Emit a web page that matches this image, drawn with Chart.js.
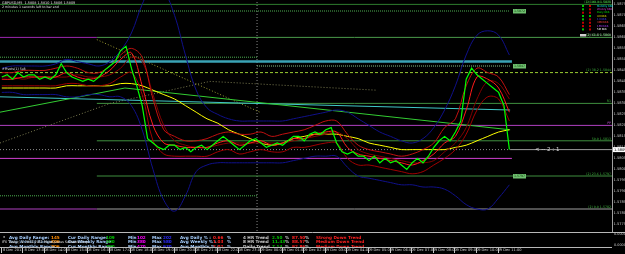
<!DOCTYPE html>
<html>
<head>
<meta charset="utf-8">
<title>GBPUSD,M5</title>
<style>
html, body { margin: 0; padding: 0; background: #000; overflow: hidden; }
canvas { display: block; }
</style>
</head>
<body>
<canvas id="chart" width="625" height="254"></canvas>
<script src="https://cdn.jsdelivr.net/npm/chart.js@4.4.0/dist/chart.umd.min.js"></script>
<script>
"use strict";

// x values are minutes after 8 Dec 12:00 (M5 bars)
var timeLabels = ["8 Dec 2011", "8 Dec 13:00", "8 Dec 14:00", "8 Dec 15:00", "8 Dec 16:00", "8 Dec 17:00",
	"8 Dec 18:00", "8 Dec 19:00", "8 Dec 20:00", "8 Dec 21:00", "8 Dec 22:00", "8 Dec 23:00",
	"9 Dec 00:00", "9 Dec 01:00", "9 Dec 02:00", "9 Dec 03:00", "9 Dec 04:00", "9 Dec 05:00",
	"9 Dec 06:00", "9 Dec 07:00", "9 Dec 08:00", "9 Dec 09:00", "9 Dec 10:00", "9 Dec 11:00"];
var priceTicks = [1.5775, 1.5780, 1.5785, 1.5790, 1.5795, 1.5800, 1.5805, 1.5810, 1.5815, 1.5820, 1.5825,
	1.5830, 1.5835, 1.5840, 1.5845, 1.5850, 1.5855, 1.5860, 1.5865, 1.5870, 1.5875];

// close every 15 minutes
var closeStep = 15;
var closes = [1.5842, 1.5843, 1.5841, 1.5844, 1.5842, 1.5843, 1.5843, 1.5841, 1.5842, 1.5841,
	1.5843, 1.5848, 1.5844, 1.5842, 1.5841, 1.5840, 1.5841, 1.5840, 1.5842, 1.5845,
	1.5847, 1.5849, 1.5854, 1.5856, 1.5846, 1.5838, 1.5829, 1.5814, 1.5812, 1.5810,
	1.5809, 1.5811, 1.5811, 1.5809, 1.5810, 1.5808, 1.5810, 1.5811, 1.5809, 1.5811,
	1.5813, 1.5815, 1.5813, 1.5811, 1.5809, 1.5811, 1.5813, 1.5814, 1.5812, 1.5810,
	1.5811, 1.5812, 1.5811, 1.5813, 1.5815, 1.5815, 1.5813, 1.5816, 1.5817, 1.5816,
	1.5818, 1.5819, 1.5812, 1.5808, 1.5807, 1.5808, 1.5806, 1.5806, 1.5804, 1.5806,
	1.5803, 1.5805, 1.5803, 1.5804, 1.5802, 1.5800, 1.5803, 1.5805, 1.5803, 1.5806,
	1.5810, 1.5813, 1.5815, 1.5813, 1.5817, 1.5822, 1.5841, 1.5846, 1.5843, 1.5841,
	1.5839, 1.5837, 1.5835, 1.5829, 1.5809];

// indicators every 30 minutes
var maStep = 30;
var redFast = [1.5841, 1.5841, 1.5842, 1.5842, 1.5842, 1.5842, 1.5844, 1.5842, 1.5841, 1.5842,
	1.5845, 1.5850, 1.5853, 1.5838, 1.5820, 1.5812, 1.5811, 1.5810, 1.5810, 1.5810,
	1.5812, 1.5813, 1.5811, 1.5812, 1.5813, 1.5811, 1.5812, 1.5814, 1.5814, 1.5816,
	1.5817, 1.5817, 1.5810, 1.5807, 1.5806, 1.5805, 1.5804, 1.5803, 1.5802, 1.5804,
	1.5807, 1.5812, 1.5815, 1.5827, 1.5842, 1.5841, 1.5837, 1.5826];
var redSlow = [1.5842, 1.5842, 1.5841, 1.5842, 1.5842, 1.5842, 1.5842, 1.5843, 1.5842, 1.5842,
	1.5843, 1.5846, 1.5851, 1.5849, 1.5834, 1.5820, 1.5813, 1.5811, 1.5810, 1.5810,
	1.5811, 1.5812, 1.5812, 1.5812, 1.5812, 1.5812, 1.5812, 1.5813, 1.5814, 1.5815,
	1.5816, 1.5817, 1.5814, 1.5809, 1.5807, 1.5806, 1.5805, 1.5804, 1.5803, 1.5803,
	1.5804, 1.5808, 1.5812, 1.5819, 1.5832, 1.5840, 1.5839, 1.5832];
var redUpper = [1.5844, 1.5844, 1.5845, 1.5845, 1.5845, 1.5846, 1.5847, 1.5846, 1.5844, 1.5844,
	1.5847, 1.5852, 1.5855, 1.5851, 1.5832, 1.5818, 1.5815, 1.5813, 1.5813, 1.5814,
	1.5816, 1.5817, 1.5816, 1.5816, 1.5817, 1.5815, 1.5816, 1.5817, 1.5818, 1.5820,
	1.5822, 1.5822, 1.5816, 1.5811, 1.5809, 1.5808, 1.5807, 1.5806, 1.5807, 1.5809,
	1.5812, 1.5819, 1.5823, 1.5838, 1.5846, 1.5844, 1.5842, 1.5834];
var redLower = [1.5838, 1.5838, 1.5838, 1.5838, 1.5838, 1.5838, 1.5839, 1.5839, 1.5838, 1.5838,
	1.5839, 1.5842, 1.5844, 1.5834, 1.5813, 1.5807, 1.5806, 1.5806, 1.5806, 1.5806,
	1.5808, 1.5809, 1.5807, 1.5808, 1.5809, 1.5808, 1.5808, 1.5810, 1.5810, 1.5811,
	1.5812, 1.5812, 1.5805, 1.5802, 1.5802, 1.5801, 1.5800, 1.5799, 1.5798, 1.5799,
	1.5802, 1.5805, 1.5809, 1.5816, 1.5827, 1.5833, 1.5832, 1.5822];
var yellowMa = [1.5837, 1.5837, 1.5837, 1.5837, 1.5837, 1.5837, 1.5838, 1.5838, 1.5838, 1.5838,
	1.5838, 1.5839, 1.5839, 1.5838, 1.5836, 1.5834, 1.5832, 1.5829, 1.5826, 1.5823,
	1.5821, 1.5818, 1.5816, 1.5814, 1.5812, 1.5811, 1.5812, 1.5814, 1.5815, 1.5816,
	1.5816, 1.5816, 1.5815, 1.5814, 1.5812, 1.5811, 1.5810, 1.5809, 1.5809, 1.5809,
	1.5809, 1.5809, 1.5810, 1.5811, 1.5813, 1.5815, 1.5817, 1.5818];
var blueUpper = [1.5846, 1.5847, 1.5847, 1.5847, 1.5847, 1.5848, 1.5850, 1.5849, 1.5848, 1.5847,
	1.5849, 1.5854, 1.5862, 1.5875, 1.5884, 1.5881, 1.5870, 1.5852, 1.5836, 1.5828,
	1.5825, 1.5823, 1.5822, 1.5822, 1.5822, 1.5822, 1.5822, 1.5823, 1.5824, 1.5825,
	1.5826, 1.5827, 1.5826, 1.5823, 1.5820, 1.5817, 1.5815, 1.5813, 1.5812, 1.5814,
	1.5819, 1.5827, 1.5838, 1.5852, 1.5861, 1.5863, 1.5861, 1.5852];
var blueLower = [1.5835, 1.5835, 1.5834, 1.5834, 1.5834, 1.5834, 1.5833, 1.5833, 1.5834, 1.5834,
	1.5833, 1.5833, 1.5829, 1.5818, 1.5800, 1.5786, 1.5781, 1.5788, 1.5799, 1.5802,
	1.5803, 1.5803, 1.5803, 1.5803, 1.5803, 1.5803, 1.5803, 1.5804, 1.5805, 1.5806,
	1.5806, 1.5806, 1.5801, 1.5797, 1.5796, 1.5795, 1.5794, 1.5793, 1.5793, 1.5792,
	1.5792, 1.5791, 1.5788, 1.5784, 1.5782, 1.5782, 1.5787, 1.5793];

// trend lines as [minute, price] pairs
var greenTrend = [[-5, 1.5826], [342, 1.5837], [1412, 1.5818]];
var cyanTrend = [[-5, 1.5833], [1412, 1.5827]];
var oliveTrend = [[264, 1.5859], [717, 1.5826]];
var grayTrend = [[-5, 1.5812], [301, 1.5830], [578, 1.5840], [1042, 1.5836]];

// horizontal levels
var levelPrices = [1.5875, 1.5872, 1.5860, 1.5851, 1.5849, 1.5847, 1.5844, 1.5830, 1.5820, 1.5813,
	1.5809, 1.5805, 1.5797, 1.5788, 1.5782];
var daySplit = 709;

var lastPrice = closes[closes.length - 1];

function series(values, step) {
	return values.map(function (v, i) {
		return { x: i * step, y: v };
	});
}
function pairs(list) {
	return list.map(function (p) {
		return { x: p[0], y: p[1] };
	});
}
function line(data, color, width, dash, tension) {
	return {
		data: data,
		borderColor: color,
		borderWidth: width,
		borderDash: dash || [],
		tension: tension || 0,
		pointRadius: 0,
		fill: false
	};
}
function hline(i, from, to, color, width, dash) {
	return line([{ x: from, y: levelPrices[i] }, { x: to, y: levelPrices[i] }], color, width, dash);
}

var datasets = [
	line(series(closes, closeStep), '#00ff00', 1.2),
	line(series(redFast, maStep), '#ff1a1a', 1, [], 0.35),
	line(series(redUpper, maStep), '#c01010', 1, [], 0.35),
	line(series(redLower, maStep), '#a00000', 1, [], 0.35),
	line(series(redSlow, maStep), '#800000', 1, [], 0.35),
	line(series(yellowMa, maStep), '#ffff00', 1, [], 0.35),
	line(series(blueUpper, maStep), '#10108a', 1, [], 0.4),
	line(series(blueLower, maStep), '#10108a', 1, [], 0.4),
	line(pairs(greenTrend), '#33cc33', 1),
	line(pairs(cyanTrend), '#40c8c8', 1),
	line(pairs(oliveTrend), '#9a9a30', 1, [1, 2]),
	line(pairs(grayTrend), '#7a7a50', 1, [1, 2]),
	hline(0, -5, 1695, '#2e7d2e', 1),
	hline(1, -5, 1412, '#4caf50', 1, [1, 1]),
	hline(2, -5, 264, '#9c27b0', 1),
	hline(2, 264, 1695, '#4a9a4a', 1),
	hline(3, -5, daySplit, '#4caf50', 1, [1, 1]),
	hline(4, -5, 1417, '#3aa3b5', 2.5),
	hline(5, daySplit, 1412, '#8bc38b', 1, [1, 1]),
	hline(6, -5, 1695, '#9acd32', 1, [3, 2]),
	hline(7, 264, 1695, '#3f8f3f', 1),
	hline(8, -5, 1695, '#b040c0', 1),
	hline(9, 264, 1695, '#3f8f3f', 1),
	hline(10, -5, 1412, '#8a8a8a', 1, [1, 2]),
	hline(10, 1412, 1695, '#9a9a9a', 1),
	hline(11, -5, 1417, '#d040d0', 1),
	hline(12, 264, 1695, '#3f8f3f', 1),
	hline(13, -5, daySplit, '#4caf50', 1, [1, 1]),
	hline(14, -5, 264, '#b040c0', 1),
	hline(14, 264, 1695, '#a0a0a0', 1),
	line([{ x: daySplit, y: 1.5772 }, { x: daySplit, y: 1.5877 }], '#8a8a8a', 1, [1, 2])
];

// text drawn on top of the chart, the way MT4 shows it
var mt4Overlay = {
	id: 'mt4Overlay',
	afterDraw: function (chart) {
		var c = chart.ctx;
		var xs = chart.scales.x;
		var ys = chart.scales.y;
		var area = chart.chartArea;

		function txt(s, x, y, color, size, bold, align) {
			c.fillStyle = color;
			c.font = (bold ? 'bold ' : '') + size + 'px "DejaVu Sans"';
			c.textAlign = align || 'left';
			c.textBaseline = 'middle';
			c.fillText(s, x, y);
		}

		c.save();
		// title
		txt('GBPUSD,M5  1.5808 1.5810 1.5806 ' + lastPrice.toFixed(4), 2, 3, '#e0e0e0', 3.4);
		txt('2 minutes 1 seconds left to bar end', 2, 7.5, '#e0e0e0', 3.2);
		txt('#Pivots(1) 5x8', 2, 69.5, '#e0e0e0', 3.2);

		// level labels on the right
		var labels = [
			[0, '(2) 100.0 1.5875', '#3cb03c'],
			[2, '(2) 61.8 1.5860', '#d0d0d0'],
			[6, '(2) 38.2 1.5844', '#3cb03c'],
			[7, 'R1', '#3cb03c'],
			[8, 'PP', '#c050d0'],
			[9, '50.0 1.5813', '#3cb03c'],
			[12, '(2) 23.6 1.5797', '#3cb03c'],
			[14, '(2) 0.0 1.5782', '#3cb03c']
		];
		labels.forEach(function (l) {
			txt(l[1], area.right - 1, ys.getPixelForValue(levelPrices[l[0]]) - 2, l[2], 3.2, false, 'right');
		});

		// price boxes at line ends
		[1, 5, 12].forEach(function (i) {
			var y = ys.getPixelForValue(levelPrices[i]);
			c.fillStyle = '#6fbf6f';
			c.fillRect(513, y - 2, 13, 4.5);
			txt(levelPrices[i].toFixed(4), 519.5, y + 0.2, '#0a3a0a', 3.2, false, 'center');
		});

		txt('< -- 2 : 1', 535, ys.getPixelForValue(lastPrice), '#d8d8d8', 5.5);

		// legend block top right
		var names = ['Monthly bbb', 'Weekly bbb', 'Daily bbb', '4H bbb', '1H bbb', '30M bbb', '15M bbb', '5M bbb'];
		var cols = ['#00e0e0', '#e040e0', '#00e000', '#e0e000', '#4040ff', '#ff4040', '#b040ff', '#ffffff'];
		var cellA = ['#00c000', '#00c000', '#c00000', '#00c000', '#00c000', '#c00000', '#c00000', '#00c000'];
		var cellB = ['#c00000', '#c00000', '#c00000', '#00c000', '#c00000', '#c00000', '#c00000', '#c00000'];
		txt('(2) 161.8 1.5888', area.right - 1, 2.5, '#3cb03c', 3, false, 'right');
		names.forEach(function (n, i) {
			var y = 6 + i * 3.35;
			c.fillStyle = cellA[i];
			c.fillRect(582, y - 1, 2, 2);
			c.fillStyle = cellB[i];
			c.fillRect(589, y - 1, 2, 2);
			txt(n, 597, y, cols[i], 2.6);
		});
		c.fillStyle = '#d0d0d0';
		c.fillRect(580, 34, 6, 2.5);
		txt('(2) 138.2 1.5881', area.right - 1, 35, '#3cb03c', 3, false, 'right');

		// current price box on the axis
		var py = ys.getPixelForValue(lastPrice);
		c.fillStyle = '#ffffff';
		c.fillRect(area.right + 1, py - 2.5, 12, 5);
		txt(lastPrice.toFixed(4), area.right + 2, py, '#000000', 3.6);

		// sub window
		c.fillStyle = '#000000';
		c.fillRect(0, area.bottom + 1, 625, 15);
		c.strokeStyle = '#b8b8b8';
		c.lineWidth = 1;
		c.beginPath();
		c.moveTo(0, area.bottom + 1.5);
		c.lineTo(625, area.bottom + 1.5);
		c.moveTo(0, 247.5);
		c.lineTo(area.right, 247.5);
		c.stroke();
		txt('0.0000', area.right + 2, 234.5, '#c8c8c8', 3.4);
		txt('0.0000', area.right + 2, 245.5, '#c8c8c8', 3.4);

		c.save();
		c.beginPath();
		c.rect(0, area.bottom + 2, area.right, 245 - area.bottom);
		c.clip();
		var w = '#a8d0ff', g = '#00c000', r = '#ff2020', m = '#ff00ff', b = '#2a2aff', o = '#ff8c00', s = '#c8c8c8';
		var rows = [
			[[3, '*', s], [9, 'Avg Daily Range:', w], [51, '145', o], [68, 'Cur Daily Range:', w], [106, '109', g],
				[128, 'Min', w], [137, '102', m], [152, 'Max', w], [163, '202', b], [180, 'Avg Daily % :', w],
				[213, '0.66', r], [227, '%', w], [243, '4 HR Trend', s], [262, ':', s], [272, '2.50', g],
				[285, '%', s], [292, '87.50', r], [305, '%', s], [316, 'Strong Down Trend', r]],
			[[9, 'Avg Weekly Range', '#6080a0'], [51, '306', o], [68, 'Cur Weekly Range', w], [106, '200', g],
				[128, 'Min', w], [137, '380', m], [152, 'Max', w], [163, '580', b], [180, 'Avg Weekly % :', w],
				[213, '1.03', r], [227, '%', w], [243, '8 HR Trend', s], [262, ':', s], [272, '11.43', g],
				[285, '%', s], [292, '88.57', r], [305, '%', s], [316, 'Medium Down Trend', r]],
			[[9, 'Avg Monthly Range', w], [51, '706', o], [68, 'Cur Monthly Range', w], [106, '390', g],
				[128, 'Min', w], [137, '470', m], [152, 'Max', w], [163, '930', b], [180, 'Avg Monthly % :', w],
				[213, '2.02', r], [227, '%', w], [243, 'Daily Trend', s], [262, ':', s], [272, '7.14', g],
				[285, '%', s], [292, '92.86', r], [305, '%', s], [316, 'Medium Down Trend', r]]
		];
		rows.forEach(function (row, i) {
			row.forEach(function (it) {
				txt(it[1], it[0], 237.5 + i * 4.8, it[2], 4.2, true);
			});
		});
		c.restore();
		txt('IFX Trader, \u00a9 2001-2011 MetaQuotes Software Corp.', 2, 242.5, '#e8e8e8', 3.3);

		// time axis tick marks
		c.strokeStyle = '#c8c8c8';
		c.beginPath();
		xs.ticks.forEach(function (t) {
			var x = Math.round(xs.getPixelForValue(t.value)) - 0.5;
			c.moveTo(x, 248);
			c.lineTo(x, 253);
		});
		c.stroke();
		c.restore();
	}
};

function noPad(scale) {
	scale.paddingLeft = 0;
	scale.paddingRight = 0;
	scale.paddingTop = 0;
	scale.paddingBottom = 0;
}

var ctx = document.getElementById('chart');
var chart = new Chart(ctx, {
	type: 'line',
	data: { datasets: datasets },
	options: {
		responsive: false,
		animation: false,
		events: [],
		layout: { padding: 0 },
		plugins: {
			legend: { display: false },
			tooltip: { enabled: false }
		},
		scales: {
			x: {
				type: 'linear',
				min: -5,
				max: 1695,
				grid: { display: false, drawTicks: false },
				border: { display: false },
				afterBuildTicks: function (scale) {
					scale.ticks = timeLabels.map(function (t, i) {
						return { value: i * 60 };
					});
				},
				afterFit: function (scale) {
					scale.height = 23;
					noPad(scale);
				},
				ticks: {
					color: '#d0d0d0',
					font: { size: 3.6, family: 'DejaVu Sans' },
					padding: 17,
					align: 'start',
					autoSkip: false,
					maxRotation: 0,
					minRotation: 0,
					callback: function (v, i) {
						return ' ' + timeLabels[i];
					}
				}
			},
			y: {
				position: 'right',
				min: 1.5772,
				max: 1.5877,
				grid: { display: false, drawTicks: false },
				border: { color: '#a0a0a0' },
				afterBuildTicks: function (scale) {
					scale.ticks = priceTicks.map(function (p) {
						return { value: p };
					});
				},
				afterFit: function (scale) {
					scale.width = 13;
					noPad(scale);
				},
				ticks: {
					color: '#c8c8c8',
					font: { size: 3.6, family: 'DejaVu Sans' },
					padding: 1.5,
					autoSkip: false,
					callback: function (v) {
						return v.toFixed(4);
					}
				}
			}
		}
	},
	plugins: [mt4Overlay]
});
</script>
</body>
</html>
